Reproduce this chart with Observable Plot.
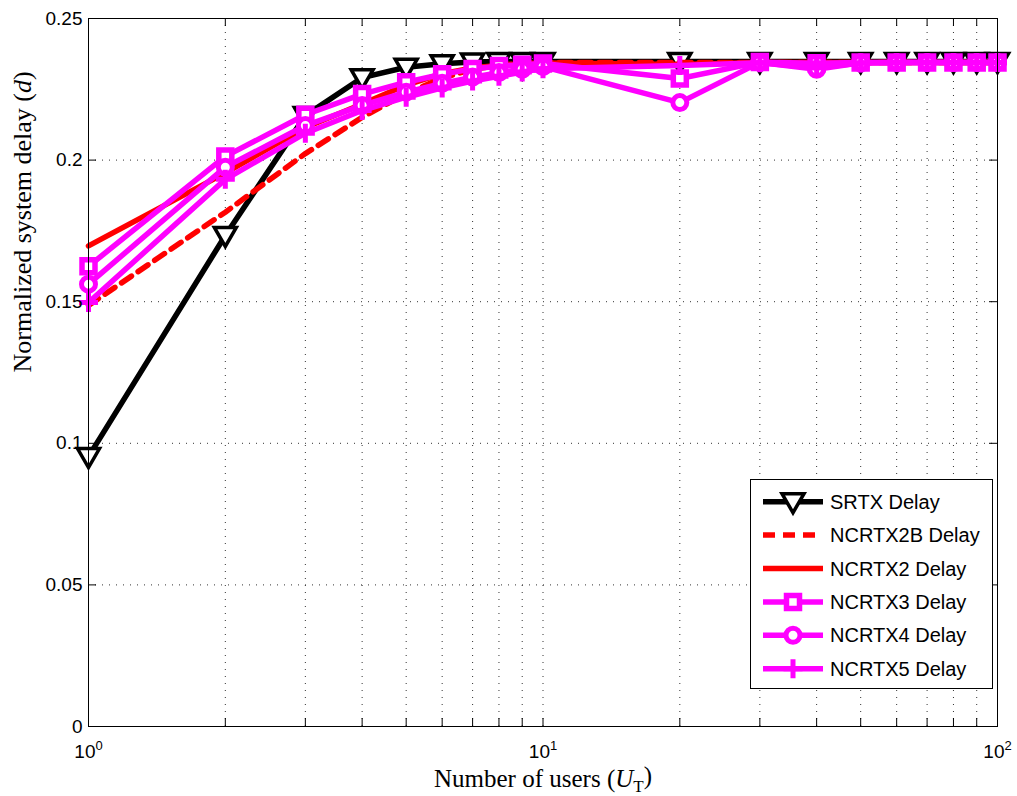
<!DOCTYPE html>
<html>
<head>
<meta charset="utf-8">
<script src="https://cdn.jsdelivr.net/npm/d3@7"></script>
<script src="https://cdn.jsdelivr.net/npm/@observablehq/plot@0.6"></script>
<style>
  html, body { margin: 0; padding: 0; background: #fff; }
  #wrap { position: relative; width: 1017px; height: 796px; }
  #legend { position: absolute; left: 750px; top: 479px; width: 243px; height: 210px;
            box-sizing: border-box; border: 1px solid #000; background: #fff; }
</style>
</head>
<body>
<div id="wrap"><div id="chart"></div><div id="legend"></div></div>
<script>
// ---- data ----
const users = [1, 2, 3, 4, 5, 6, 7, 8, 9, 10, 20, 30, 40, 50, 60, 70, 80, 90, 100];
const srtx    = [0.0953, 0.1734, 0.2157, 0.2291, 0.2328, 0.2340, 0.2346, 0.2348, 0.2348, 0.2348, 0.2348, 0.2348, 0.2348, 0.2348, 0.2348, 0.2348, 0.2348, 0.2348, 0.2348];
const ncrtx2b = [0.1487, 0.1816, 0.2023, 0.2151, 0.2235, 0.2290, 0.2320, 0.2335, 0.2342, 0.2345, 0.2345, 0.2345, 0.2345, 0.2345, 0.2345, 0.2345, 0.2345, 0.2345, 0.2345];
const ncrtx2  = [0.1697, 0.1955, 0.2115, 0.2198, 0.2265, 0.2305, 0.2325, 0.2335, 0.2340, 0.2343, 0.2338, 0.2345, 0.2345, 0.2345, 0.2345, 0.2345, 0.2345, 0.2345, 0.2345];
const ncrtx3  = [0.1625, 0.2013, 0.2160, 0.2233, 0.2275, 0.2303, 0.2322, 0.2332, 0.2337, 0.2341, 0.2288, 0.2346, 0.2342, 0.2345, 0.2345, 0.2345, 0.2345, 0.2345, 0.2345];
const ncrtx4  = [0.1562, 0.1975, 0.2122, 0.2193, 0.2240, 0.2271, 0.2293, 0.2309, 0.2321, 0.2330, 0.2203, 0.2345, 0.2321, 0.2344, 0.2345, 0.2345, 0.2345, 0.2345, 0.2345];
const ncrtx5  = [0.1497, 0.1932, 0.2095, 0.2175, 0.2222, 0.2255, 0.2279, 0.2296, 0.2311, 0.2323, 0.2334, 0.2344, 0.2326, 0.2343, 0.2345, 0.2345, 0.2345, 0.2345, 0.2345];
const seriesNames = ["SRTX Delay", "NCRTX2B Delay", "NCRTX2 Delay", "NCRTX3 Delay", "NCRTX4 Delay", "NCRTX5 Delay"];
const xMajorTicks = [1, 10, 100];
const xAllTicks = [1, 2, 3, 4, 5, 6, 7, 8, 9, 10, 20, 30, 40, 50, 60, 70, 80, 90, 100];
const yTicks = [0, 0.05, 0.1, 0.15, 0.2, 0.25];
const xLabel = "Number of users (UT)";
const yLabel = "Normalized system delay (d)";

// ---- custom marker symbols (r = half-size) ----
const rad = s => Math.sqrt(s / Math.PI);
const symDown = { draw(c, s) { const r = rad(s); c.moveTo(-r, -0.73 * r); c.lineTo(r, -0.73 * r); c.lineTo(0, r); c.closePath(); } };
const symSquare = { draw(c, s) { const r = rad(s); c.rect(-r, -r, 2 * r, 2 * r); } };
const symCircle = { draw(c, s) { const r = rad(s); c.moveTo(r, 0); c.arc(0, 0, r, 0, 2 * Math.PI); } };
const symPlus = { draw(c, s) { const r = rad(s); c.moveTo(-r, 0); c.lineTo(r, 0); c.moveTo(0, -r); c.lineTo(0, r); } };

const styles = [
  { values: srtx,    stroke: "#000",    dash: null,   sym: symDown,   r: 11,  sw: 3.5, fill: "#fff" },
  { values: ncrtx2b, stroke: "#ff0000", dash: "12,8", sym: null },
  { values: ncrtx2,  stroke: "#ff0000", dash: null,   sym: null },
  { values: ncrtx3,  stroke: "#ff00ff", dash: null,   sym: symSquare, r: 6.5, sw: 5.5, fill: "#fff" },
  { values: ncrtx4,  stroke: "#ff00ff", dash: null,   sym: symCircle, r: 7,   sw: 5,   fill: "#fff" },
  { values: ncrtx5,  stroke: "#ff00ff", dash: null,   sym: symPlus,   r: 9.5, sw: 5,   fill: "none" }
];

const W = 1017, H = 796, mL = 88, mR = 20, mT = 18, mB = 70;
const plotW = W - mL - mR, plotH = H - mT - mB;

const marks = [
  Plot.ruleX(xAllTicks, { x: d => d, stroke: "#333", strokeDasharray: "1,6", strokeWidth: 1 }),
  Plot.ruleY(yTicks, { y: d => d, stroke: "#333", strokeDasharray: "1,6", strokeWidth: 1 }),
  // inward ticks
  Plot.tickY(yTicks, { y: d => d, insetRight: plotW - 8, stroke: "#000" }),
  Plot.tickY(yTicks, { y: d => d, insetLeft: plotW - 8, stroke: "#000" }),
  Plot.tickX(xAllTicks, { x: d => d, insetTop: plotH - 8, stroke: "#000" }),
  Plot.tickX(xAllTicks, { x: d => d, insetBottom: plotH - 8, stroke: "#000" }),
];
styles.forEach(s => {
  const data = users.map((u, i) => ({ u, v: s.values[i] }));
  marks.push(Plot.line(data, { x: "u", y: "v", stroke: s.stroke, strokeWidth: 5.5, strokeDasharray: s.dash || undefined, strokeLinejoin: "round" }));
  if (s.sym) marks.push(Plot.dot(data, { x: "u", y: "v", symbol: s.sym, r: s.r, stroke: s.stroke, strokeWidth: s.sw, fill: s.fill, strokeLinejoin: "miter" }));
});
marks.push(
  Plot.frame({ stroke: "#000", strokeWidth: 1 }),
  Plot.axisY(yTicks, { label: null, tickSize: 0, tickPadding: 6, tickFormat: d => String(d) }),
  Plot.axisX(xMajorTicks, { label: null, tickSize: 0, tickPadding: 18, tickFormat: d => "10^" + Math.round(Math.log10(d)) }),
  Plot.text([xLabel], { frameAnchor: "bottom", dy: 60, fontSize: 25, fontFamily: "Liberation Serif, Times New Roman, serif", textAnchor: "middle" }),
  Plot.text([yLabel], { frameAnchor: "left", dx: -66, rotate: -90, fontSize: 26, fontFamily: "Liberation Serif, Times New Roman, serif" })
);

const chart = Plot.plot({
  width: W, height: H, marginLeft: mL, marginRight: mR, marginTop: mT, marginBottom: mB,
  x: { type: "log", domain: [1, 100], axis: null, label: null },
  y: { domain: [0, 0.25], axis: null, label: null },
  style: { fontFamily: "Liberation Sans, Arial, sans-serif", fontSize: "19px", color: "#000", background: "#fff" },
  marks
});
document.getElementById("chart").appendChild(chart);

// rich text post-processing
const svg = d3.select(chart);
const yTickStrings = yTicks.map(String);
svg.selectAll("text").each(function () {
  const t = this.textContent;
  const el = d3.select(this);
  if (/^10\^\d$/.test(t)) {
    const [base, exp] = t.split("^");
    el.text(null).style("font-size", "19px").attr("font-size", 19);
    el.append("tspan").text(base);
    el.append("tspan").attr("dy", "-0.6em").style("font-size", "13px").text(exp);
  } else if (yTickStrings.includes(t)) {
    el.style("font-size", "19px").attr("font-size", 19);
  } else if (t === xLabel) {
    el.text(null);
    el.append("tspan").text("Number of users (");
    el.append("tspan").attr("font-style", "italic").text("U");
    el.append("tspan").attr("dy", "0.3em").style("font-size", "17px").text("T");
    el.append("tspan").attr("dy", "-0.3em").text(")");
  } else if (t === yLabel) {
    el.text(null);
    el.append("tspan").text("Normalized system delay (");
    el.append("tspan").attr("font-style", "italic").text("d");
    el.append("tspan").text(")");
  }
});
svg.selectAll("text").filter(function () { return /^10\d$/.test(this.textContent); })
  .each(function () { this.parentNode.setAttribute("font-size", 19); });

// legend
const lg = d3.select("#legend").append("svg").attr("width", 241).attr("height", 208)
  .style("position", "absolute").style("left", "0px").style("top", "0px");
styles.forEach((s, i) => {
  const cy = 21.7 + i * 33.4;
  lg.append("line").attr("x1", 12).attr("x2", 72).attr("y1", cy).attr("y2", cy)
    .attr("stroke", s.stroke).attr("stroke-width", 5.5).attr("stroke-dasharray", s.dash);
  if (s.sym) {
    lg.append("path").attr("transform", `translate(42,${cy})`)
      .attr("d", d3.symbol(s.sym, s.r * s.r * Math.PI)())
      .attr("stroke", s.stroke).attr("stroke-width", s.sw).attr("fill", s.fill);
  }
  lg.append("text").attr("x", 79).attr("y", cy + 7).attr("font-family", "Liberation Sans, Arial, sans-serif")
    .style("font-size", "20px").text(seriesNames[i]);
});
</script>
</body>
</html>
